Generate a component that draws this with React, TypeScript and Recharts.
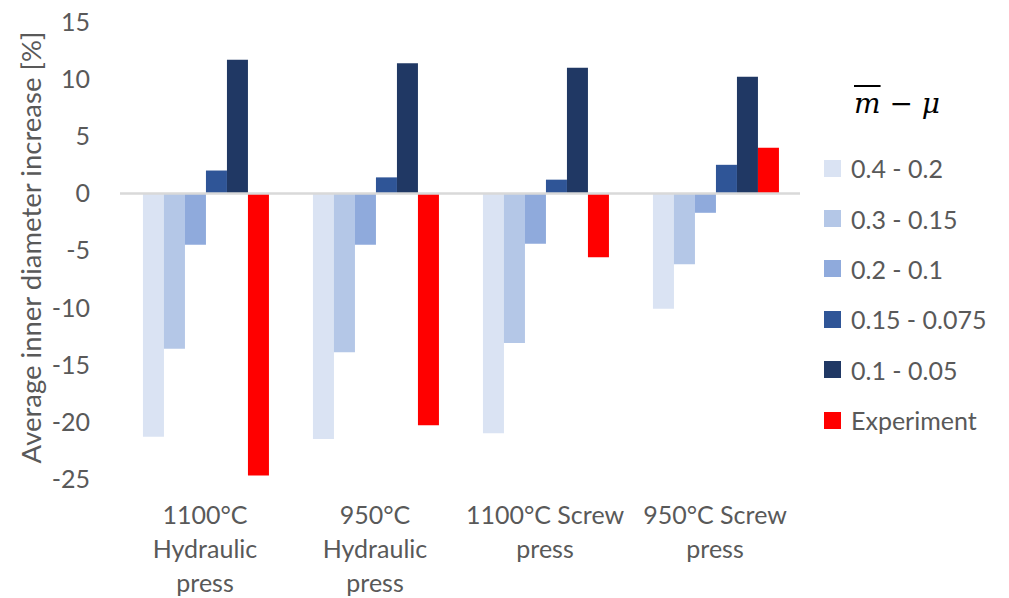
import React from 'react';
import { BarChart, Bar, XAxis, YAxis, ReferenceLine } from 'recharts';

const categories = [
  '1100°C\nHydraulic\npress',
  '950°C\nHydraulic\npress',
  '1100°C Screw\npress',
  '950°C Screw\npress',
];

const s04_02 = [-21.3, -21.5, -21.0, -10.1];
const s03_015 = [-13.6, -13.9, -13.1, -6.2];
const s02_01 = [-4.5, -4.5, -4.4, -1.7];
const s015_0075 = [2.0, 1.4, 1.2, 2.5];
const s01_005 = [11.7, 11.4, 11.0, 10.2];
const experiment = [-24.7, -20.3, -5.6, 4.0];

const yTicks = [-25, -20, -15, -10, -5, 0, 5, 10, 15];

const series = [
  { key: 's1', name: '0.4 - 0.2', color: '#dae3f3', values: s04_02 },
  { key: 's2', name: '0.3 - 0.15', color: '#b4c7e7', values: s03_015 },
  { key: 's3', name: '0.2 - 0.1', color: '#8faadc', values: s02_01 },
  { key: 's4', name: '0.15 - 0.075', color: '#2f5597', values: s015_0075 },
  { key: 's5', name: '0.1 - 0.05', color: '#203864', values: s01_005 },
  { key: 's6', name: 'Experiment', color: '#ff0000', values: experiment },
];

const data = categories.map((cat, i) => {
  const row: Record<string, string | number> = { cat };
  series.forEach((s) => {
    row[s.key] = s.values[i];
  });
  return row;
});

const FONT = 'Lato, "Open Sans", sans-serif';
const TEXT = '#595959';
const FS = 25;

function CategoryTick(props: any) {
  const { x, y, payload } = props;
  const lines = String(payload.value).split('\n');
  return (
    <g transform={`translate(${x},${y})`}>
      {lines.map((line, i) => (
        <text
          key={i}
          x={0}
          y={37 + i * 34}
          textAnchor="middle"
          fill={TEXT}
          fontSize={FS}
          fontFamily={FONT}
        >
          {line}
        </text>
      ))}
    </g>
  );
}

function LegendBox() {
  return (
    <div
      style={{
        position: 'absolute',
        left: 824,
        top: 87,
        fontFamily: FONT,
        color: TEXT,
        fontSize: FS,
      }}
    >
      <div
        style={{
          fontFamily: '"DejaVu Serif", serif',
          fontStyle: 'italic',
          color: '#000',
          fontSize: 28,
          marginLeft: 30,
          marginBottom: 23,
          whiteSpace: 'nowrap',
        }}
      >
        <span style={{ textDecoration: 'overline' }}>m</span>
        <span style={{ fontStyle: 'normal' }}> − </span>μ
      </div>
      {series.map((s) => (
        <div
          key={s.key}
          style={{ display: 'flex', alignItems: 'center', height: 50.4 }}
        >
          <span
            style={{
              display: 'inline-block',
              width: 17,
              height: 17,
              background: s.color,
              marginRight: 10,
            }}
          />
          <span style={{ whiteSpace: 'nowrap' }}>{s.name}</span>
        </div>
      ))}
    </div>
  );
}

export default function App() {
  return (
    <div style={{ position: 'absolute', left: 0, top: 0, width: 1009, height: 598, background: '#fff' }}>
      <BarChart
        width={1009}
        height={598}
        data={data}
        margin={{ top: 22, right: 209, bottom: 0, left: 0 }}
        barGap={0}
        barCategoryGap="13.5%"
      >
        <XAxis
          dataKey="cat"
          axisLine={false}
          tickLine={false}
          interval={0}
          tick={<CategoryTick />}
          height={119}
        />
        <YAxis
          domain={[-25, 15]}
          ticks={yTicks}
          axisLine={false}
          tickLine={false}
          width={120}
          tickMargin={24}
          tick={{ fill: TEXT, fontSize: FS, fontFamily: FONT }}
          label={{
            value: 'Average inner diameter increase [%]',
            angle: -90,
            position: 'center',
            dx: -29,
            dy: -3,
            style: { fill: TEXT, fontSize: 27.5, fontFamily: FONT, textAnchor: 'middle' },
          }}
        />
        {series.map((s) => (
          <Bar
            key={s.key}
            dataKey={s.key}
            name={s.name}
            fill={s.color}
            isAnimationActive={false}
          />
        ))}
        <ReferenceLine y={0} stroke="#d9d9d9" strokeWidth={2.5} />
      </BarChart>
      <LegendBox />
    </div>
  );
}
